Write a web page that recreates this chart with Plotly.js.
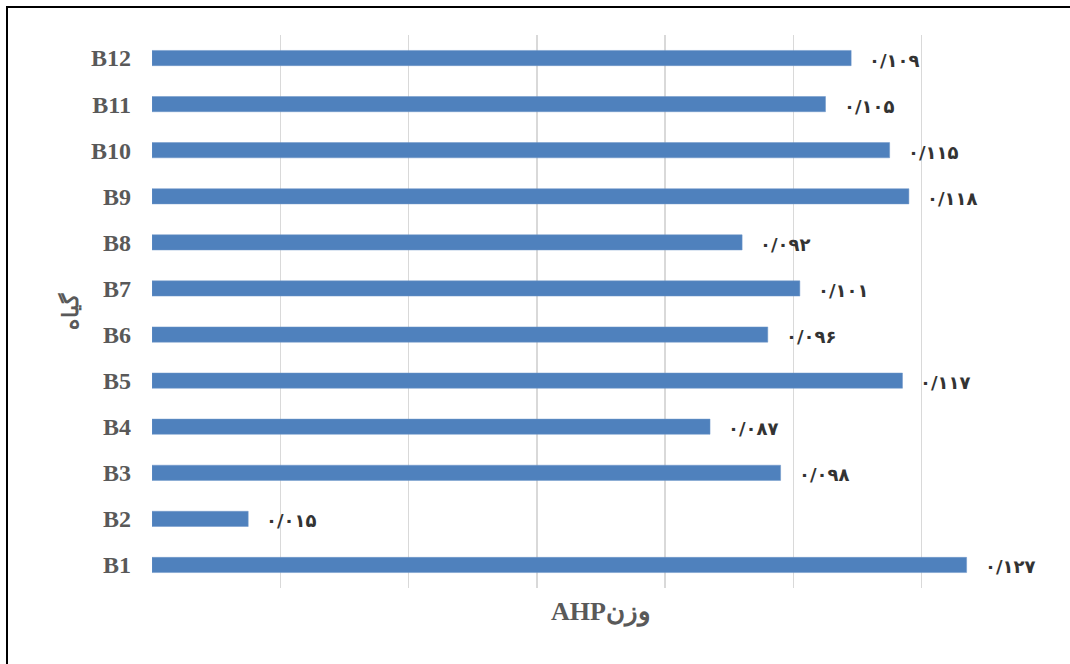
<!DOCTYPE html>
<html>
<head>
<meta charset="utf-8">
<script src="https://cdn.plot.ly/plotly-3.0.1.min.js"></script>
<style>
  html, body { margin: 0; padding: 0; background: #ffffff; }
  #chart { width: 1070px; height: 664px; }
</style>
</head>
<body>
<div id="chart"></div>
<script>
// Plant codes and their AHP weights
const plants = ['B1', 'B2', 'B3', 'B4', 'B5', 'B6', 'B7', 'B8', 'B9', 'B10', 'B11', 'B12'];
const weights = [0.127, 0.015, 0.098, 0.087, 0.117, 0.096, 0.101, 0.092, 0.118, 0.115, 0.105, 0.109];
// Value labels written with Persian digits
const weightLabels = ['۰/۱۲۷', '۰/۰۱۵', '۰/۰۹۸', '۰/۰۸۷', '۰/۱۱۷', '۰/۰۹۶', '۰/۱۰۱', '۰/۰۹۲', '۰/۱۱۸', '۰/۱۱۵', '۰/۱۰۵', '۰/۱۰۹'];

const xTitle = '<b>AHP</b>وزن';
const yTitle = 'گیاه';

const serif = '"Times New Roman", "Liberation Serif", "DejaVu Serif", serif';
const labelFont = '"DejaVu Sans", "Noto Sans", sans-serif';

const trace = {
  type: 'bar',
  orientation: 'h',
  x: weights,
  y: plants,
  marker: { color: '#4f81bd', line: { color: '#6f97c9', width: 0.5 } },
  hoverinfo: 'skip'
};

// Value labels placed just right of each bar end
const annotations = plants.map((p, i) => ({
  x: weights[i],
  y: p,
  xref: 'x',
  yref: 'y',
  text: weightLabels[i],
  showarrow: false,
  xanchor: 'left',
  yanchor: 'middle',
  xshift: 16,
  yshift: -2,
  font: { family: labelFont, size: 18, color: '#333333', weight: 'bold' }
}));

// Vertical axis title, rotated
annotations.push({
  xref: 'paper',
  yref: 'paper',
  x: -0.092,
  y: 0.5,
  xanchor: 'center',
  yanchor: 'middle',
  textangle: -90,
  showarrow: false,
  text: yTitle,
  font: { family: serif, size: 22, color: '#595959', weight: 'bold' }
});

const layout = {
  width: 1070,
  height: 664,
  margin: { l: 152, r: 20, t: 35, b: 76 },
  paper_bgcolor: '#ffffff',
  plot_bgcolor: '#ffffff',
  showlegend: false,
  bargap: 0.67,
  xaxis: {
    range: [0, 0.14],
    dtick: 0.02,
    tick0: 0,
    showticklabels: false,
    showgrid: true,
    gridcolor: '#d9d9d9',
    gridwidth: 1.5,
    zeroline: false,
    showline: false,
    ticks: '',
    fixedrange: true,
    title: {
      text: xTitle,
      standoff: 13,
      font: { family: serif, size: 26, color: '#595959', weight: 'bold' }
    }
  },
  yaxis: {
    type: 'category',
    categoryorder: 'array',
    categoryarray: plants,
    showgrid: false,
    zeroline: false,
    showline: false,
    ticks: '',
    ticklabelstandoff: 20,
    tickfont: { family: serif, size: 24, color: '#595959', weight: 'bold' },
    fixedrange: true
  },
  annotations: annotations,
  shapes: [{
    type: 'rect',
    xref: 'paper',
    yref: 'paper',
    x0: (7 - 152) / 898,
    x1: (1080 - 152) / 898,
    y0: (588 - 680) / 553,
    y1: (588 - 7) / 553,
    line: { color: '#000000', width: 2 },
    fillcolor: 'rgba(0,0,0,0)',
    layer: 'above'
  }]
};

Plotly.newPlot('chart', [trace], layout, { displayModeBar: false, staticPlot: true });
</script>
</body>
</html>
